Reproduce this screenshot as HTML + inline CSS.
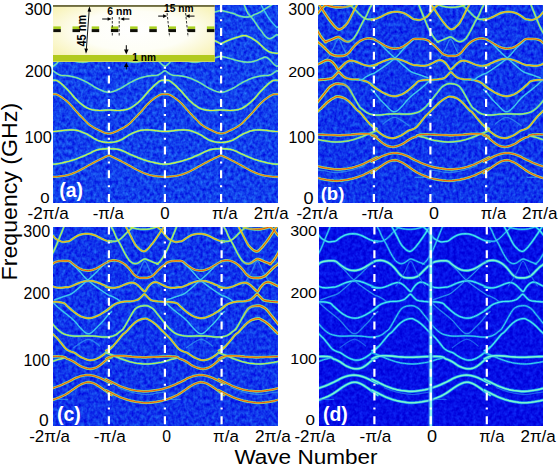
<!DOCTYPE html>
<html><head><meta charset="utf-8"><style>
html,body{margin:0;padding:0;background:#fff;}
svg{display:block;font-family:"Liberation Sans",sans-serif;}
</style></head><body>
<svg width="558" height="466" viewBox="0 0 558 466">
<defs>
<filter id="nz" x="0" y="0" width="100%" height="100%" color-interpolation-filters="sRGB"><feTurbulence type="fractalNoise" baseFrequency="0.32 0.26" numOctaves="2" seed="7"/><feColorMatrix type="matrix" values="0.2 0 0 0 -0.03  0.6 0 0 0 -0.05  0.15 0 0 0 0.85  0 0 0 0 1"/></filter>
<filter id="nzb" x="0" y="0" width="100%" height="100%" color-interpolation-filters="sRGB"><feTurbulence type="fractalNoise" baseFrequency="0.32 0.26" numOctaves="2" seed="5"/><feColorMatrix type="matrix" values="0.16 0 0 0 -0.02  0.55 0 0 0 -0.07  0.12 0 0 0 0.86  0 0 0 0 1"/></filter>
<filter id="nzd" x="0" y="0" width="100%" height="100%" color-interpolation-filters="sRGB"><feTurbulence type="fractalNoise" baseFrequency="0.3 0.25" numOctaves="2" seed="11"/><feColorMatrix type="matrix" values="0.1 0 0 0 -0.03  0.3 0 0 0 -0.09  0.2 0 0 0 0.8  0 0 0 0 1"/></filter>
<radialGradient id="ig" cx="0.5" cy="0.45" r="0.62"><stop offset="0" stop-color="#ffffff"/><stop offset="0.55" stop-color="#fefef6"/><stop offset="1" stop-color="#f8f3b8"/></radialGradient>
<path id="d0" d="M374.4,240.5 375.8,240.8 377.9,241.1 379.7,241.3 381.0,241.3 382.0,241.2 383.2,240.8 384.6,240.1 386.1,239.1 387.5,238.0 388.7,236.9 389.8,235.8 390.9,234.6 392.0,233.5 393.2,232.3 394.3,231.2 395.5,230.1 396.7,229.0 397.8,228.1 398.7,227.5 399.6,227.0 400.3,226.4 401.0,225.4 401.6,224.3 402.0,223.5"/>
<path id="d1" d="M376.4,222.0 376.5,223.1 376.8,224.7 377.2,226.4 377.9,228.0 378.9,229.6 379.7,231.2 380.3,232.7 380.9,234.1 381.4,235.4 382.0,236.6 382.5,237.7 383.2,238.9 384.0,240.2 384.8,241.7 385.7,243.2 386.6,244.8 387.4,246.6 388.3,248.3 389.2,250.1 390.0,251.8 390.9,253.5 391.8,255.0 392.6,256.5 393.5,257.8 394.3,259.0 395.0,260.2 396.0,261.2 397.3,262.2 398.8,263.1 400.3,263.6 401.6,263.7 402.8,263.4 404.0,263.0 405.0,262.4 406.0,261.7 407.0,261.0 408.2,260.2 409.4,259.4 410.6,259.0 411.7,259.1 412.8,259.5 414.0,260.0 415.4,260.6 417.0,261.3 418.6,262.0 420.5,262.7 422.6,263.5 424.0,264.0"/>
<path id="d2" d="M390.0,223.0 390.4,223.8 391.0,225.0 391.7,226.4 392.5,227.9 393.4,229.5 394.3,231.2 395.2,232.9 396.0,234.6 396.9,236.3 397.8,238.1 398.6,239.8 399.5,241.5 400.3,243.0 401.2,244.5 402.0,245.7 402.9,246.7 403.7,247.5 404.6,248.3 405.4,249.1 406.3,249.9 407.2,250.5 408.3,251.0 409.4,251.4 410.6,251.3 411.8,250.7 413.0,249.6 414.3,248.3 415.7,246.8 417.1,245.0 418.6,243.2 420.1,241.2 421.5,239.2 422.9,237.2 424.1,235.3 425.3,233.6 426.3,232.0 427.2,230.7 427.9,229.5 428.5,228.6 429.0,228.0 429.3,227.6 429.7,226.9 430.2,225.6 430.7,224.1 431.0,223.0"/>
<path id="d3" d="M420.5,223.0 421.1,223.9 421.9,225.1 422.9,226.4 424.2,227.6 425.8,229.0 427.2,230.3 428.4,231.7 429.5,233.2 430.6,234.6 431.8,236.0 432.9,237.3 434.0,238.4 434.9,239.1 435.6,239.5 436.6,240.0 437.9,240.7 439.4,241.4 440.9,241.9 442.4,241.9 443.9,241.7 445.2,241.5 446.2,241.4 447.0,241.4 448.0,241.0 449.3,240.2 450.8,239.1 452.3,238.0 453.7,237.1 455.2,236.2 456.6,235.5 458.0,234.9 459.5,234.5 460.9,234.2 462.3,233.9 463.8,233.8 465.2,233.7 466.6,233.8 468.1,233.9 469.5,234.2 470.9,234.5 472.4,235.0 473.8,235.5 475.2,236.1 476.7,236.9 478.1,237.6 479.5,238.3 480.9,239.0 482.4,239.7 484.0,240.3 485.7,240.9 487.1,241.3 488.3,241.6 489.3,241.8 490.0,241.9"/>
<path id="d4" d="M444.0,223.0 443.7,223.8 443.2,224.9 442.6,226.4 441.8,228.4 440.9,230.7 440.0,232.9 439.1,235.0 438.3,237.0 437.5,238.9 436.9,240.4 436.4,241.7 435.8,243.2 435.0,245.1 434.1,247.2 433.2,249.2 432.3,251.0 431.5,252.7 430.6,254.3 429.7,255.8 428.9,257.3 428.0,258.6 427.2,259.9 426.3,261.0 425.5,262.0 424.5,262.8 423.6,263.5 422.9,264.0"/>
<path id="d5" d="M374.4,261.5 374.8,261.3 375.4,261.0 376.3,260.8 377.6,260.6 379.1,260.4 380.6,260.3 382.0,260.5 383.5,260.8 384.9,261.2 386.4,261.8 387.8,262.5 389.2,263.3 390.4,264.1 391.5,265.0 392.6,266.0 393.7,267.1 394.8,268.3 396.0,269.7 397.4,271.4 398.8,273.3 400.3,274.9 401.7,276.0 403.2,276.9 404.6,277.5 406.1,277.8 407.6,277.9 408.9,277.9 410.1,277.9 411.1,277.9 412.0,277.9 412.8,277.8 413.4,277.8 414.3,277.5 415.6,277.1 417.1,276.5 418.6,275.7 420.0,274.4 421.5,272.9 422.9,271.4 424.4,269.9 425.8,268.5 427.2,267.2 428.4,266.2 429.6,265.4 430.6,264.6 431.5,263.8 432.2,263.0 433.2,262.4 434.5,261.9 435.9,261.5 437.5,261.2 439.1,261.0 440.9,260.8 442.6,260.8 444.4,260.8 446.1,260.8 447.8,261.2 449.4,262.1 450.8,263.4 452.3,264.6 453.7,265.7 455.2,266.7 456.6,267.6 458.0,268.4 459.3,269.1 460.9,269.7 462.8,270.2 464.8,270.5 466.9,270.6 468.9,270.4 471.0,269.9 472.9,269.3 474.7,268.5 476.5,267.6 478.1,266.7 479.6,265.8 481.0,265.0 482.4,264.1 484.0,263.1 485.7,262.2 486.8,261.5"/>
<path id="d6" d="M372.0,286.9 373.1,287.2 374.7,287.5 376.3,287.8 377.7,287.9 379.2,287.9 380.6,287.8 382.0,287.6 383.5,287.3 384.9,286.9 386.3,286.4 387.8,285.8 389.2,285.2 390.6,284.6 392.1,284.0 393.5,283.5 395.0,283.1 396.4,282.7 397.8,282.6 399.0,282.7 400.1,283.0 401.2,283.5 402.3,284.2 403.5,285.0 404.6,286.0 405.8,287.1 407.0,288.4 408.1,289.5 409.1,290.5 410.1,291.3 411.0,291.5 411.8,290.7 412.5,289.3 413.4,287.8 414.5,286.4 415.7,285.0 416.9,283.9 418.0,283.1 419.2,282.5 420.3,282.2 421.4,282.1 422.6,282.3 423.7,282.6 424.9,283.1 426.0,283.7 427.2,284.3 428.3,284.9 429.5,285.5 430.6,286.0 431.7,286.5 432.8,286.9 434.0,287.3 435.3,287.6 436.7,287.7 438.3,287.8 440.3,287.7 442.4,287.5 444.3,287.3 445.6,287.2 446.7,287.2 448.0,286.9 449.6,286.3 451.4,285.6 453.2,284.8 454.9,284.0 456.6,283.3 458.3,282.6 460.1,282.1 461.8,281.6 463.5,281.3 465.0,281.1 466.4,280.9 467.8,280.9 469.2,280.9 470.6,281.0 472.1,281.3 473.7,281.8 475.5,282.3 477.2,283.0 478.9,283.7 480.7,284.5 482.4,285.2 484.1,286.0 485.7,286.7 487.1,287.3 488.3,287.6 489.3,287.7 490.0,287.8"/>
<path id="d7" d="M448.0,262.0 450.2,263.9 453.4,266.7 456.6,269.7 459.4,272.8 462.2,276.1 465.2,279.2 468.3,281.9 471.5,284.4 475.0,287.0 479.1,289.9 483.5,292.8 486.8,295.0 488.3,295.8 488.8,295.8 489.6,296.0 491.4,296.8 493.5,297.9 495.4,298.9 496.8,299.9 497.9,300.8 499.0,301.5 500.2,301.8 501.2,301.9 502.0,302.0"/>
<path id="d8" d="M433.2,299.8 434.5,299.3 436.3,298.7 438.3,298.0 440.2,297.3 442.3,296.6 444.3,295.9 446.2,295.3 448.0,294.7 450.0,293.8 452.1,292.4 454.2,290.6 456.6,288.6 459.4,286.2 462.4,283.4 465.2,280.9 467.7,278.8 469.9,276.8 472.1,274.9 474.2,272.8 476.3,270.8 478.1,268.9 479.7,267.3 481.2,265.8 482.4,264.6 483.5,263.6 484.4,262.9 485.0,262.4"/>
<path id="d9" d="M372.0,310.9 373.1,310.0 374.7,308.7 376.3,307.4 377.7,306.3 379.2,305.3 380.6,304.4 382.0,303.7 383.5,303.2 384.9,302.7 386.4,302.3 387.8,302.0 389.2,301.7 390.5,301.5 391.7,301.5 393.0,301.4 394.4,301.4 395.9,301.4 397.5,301.2 399.5,300.9 401.6,300.4 403.5,299.8 405.0,298.9 406.2,297.8 407.3,296.8 408.4,295.7 409.3,294.7 410.3,294.2 411.3,294.7 412.2,295.7 413.3,296.8 414.4,298.0 415.6,299.2 417.1,300.2 419.1,300.8 421.5,301.1 423.9,301.4 426.3,301.6 428.7,301.8 430.9,301.9 432.6,301.9 434.1,301.8 435.8,301.9 438.1,302.2 440.5,302.6 442.6,303.2 443.9,304.0 444.8,305.0 446.0,306.3 448.0,308.0 450.2,310.0 452.3,311.7 453.9,312.9 455.2,313.9 456.6,314.8 458.0,315.6 459.3,316.3 460.9,316.9 462.8,317.5 464.9,318.0 466.9,318.2 468.7,318.1 470.4,317.8 472.1,317.3 473.8,316.7 475.5,316.0 477.2,315.2 478.9,314.3 480.7,313.2 482.4,312.2 484.1,311.2 485.7,310.1 487.1,309.2 488.3,308.3 489.3,307.5 490.0,307.0"/>
<path id="d10" d="M374.4,337.0 375.6,336.8 377.3,336.4 379.0,336.0 380.4,335.4 381.8,334.7 383.0,334.0 384.1,333.2 385.0,332.4 386.0,331.5 387.0,330.9 388.0,330.2 389.2,328.9 390.8,326.4 392.6,323.3 394.3,320.3 395.8,317.5 397.3,314.9 398.6,312.6 399.8,310.8 400.8,309.4 402.0,308.3 403.3,307.4 404.7,306.7 406.3,306.2 408.2,305.9 410.2,305.7 412.0,305.7 413.2,305.8 414.2,306.1 415.2,306.6 416.6,307.3 418.0,308.1 419.4,309.2 420.6,310.5 421.8,312.0 422.9,313.5 424.0,314.9 425.2,316.3 426.3,317.7 427.4,319.1 428.6,320.6 429.7,322.0 430.8,323.4 432.0,324.9 433.2,326.3 434.5,327.8 436.0,329.2 437.5,330.6 439.1,331.9 440.7,333.0 442.6,334.0 444.9,334.8 447.5,335.4 450.0,335.8 452.2,336.1 454.3,336.2 456.6,336.2 459.3,336.1 462.3,335.9 465.2,335.8 468.1,335.9 470.9,336.0 473.8,336.2 476.8,336.5 479.8,336.9 482.4,337.1 484.3,337.1 485.8,337.1 486.8,337.0"/>
<path id="d11" d="M372.0,350.7 373.1,350.2 374.7,349.5 376.3,348.6 377.7,347.4 379.2,345.9 380.6,344.3 382.0,342.7 383.5,340.9 384.9,339.2 386.4,337.3 387.9,335.5 389.2,334.0 390.0,333.4 390.7,333.1 391.7,332.3 393.5,330.3 395.7,327.8 397.8,325.5 399.6,323.8 401.2,322.4 402.9,321.2 404.7,320.2 406.5,319.5 408.1,319.0 409.6,318.7 410.9,318.6 412.0,318.6 412.8,318.7 413.4,319.0 414.3,319.5 415.6,320.2 417.1,321.0 418.6,322.0 420.0,323.1 421.5,324.2 422.9,325.5 424.4,326.9 425.8,328.4 427.2,329.8 428.4,331.0 429.5,332.1 430.6,333.2 431.8,334.4 433.0,335.6 434.0,336.6 434.6,337.2 435.1,337.5 435.8,338.3 437.0,339.7 438.5,341.6 440.0,343.4 441.4,345.2 442.9,347.1 444.3,348.6 445.5,349.6 446.7,350.3 448.0,351.0 449.6,351.6 451.4,352.2 453.2,352.9 454.9,354.0 456.6,355.2 458.3,356.3 460.0,357.3 461.8,358.2 463.5,358.9 465.2,359.5 466.9,360.0 468.6,360.2 470.3,360.1 472.1,359.8 473.8,359.3 475.5,358.6 477.2,357.8 478.9,356.8 480.7,355.6 482.5,354.2 484.1,352.9 485.3,351.8 486.2,350.9 487.1,349.9 488.2,348.8 489.3,347.7 490.0,346.9"/>
<path id="d12" d="M372.0,358.9 373.1,358.3 374.7,357.4 376.3,356.7 377.6,356.3 378.8,356.1 380.6,355.9 383.1,355.8 386.2,355.8 389.2,355.9 392.1,356.1 394.9,356.4 397.8,356.7 400.7,356.9 403.7,357.1 406.3,357.2 408.4,357.3 410.1,357.3 412.0,357.3 413.9,357.2 415.9,357.1 418.6,357.0 422.5,356.8 427.0,356.6 430.9,356.5 433.8,356.4 436.2,356.4 438.3,356.5 440.0,356.6 441.3,356.7 442.6,357.0 443.9,357.6 445.0,358.4 446.0,359.0 446.7,359.2 447.1,359.3 448.0,359.6 449.5,360.3 451.4,361.3 453.2,362.3 454.9,363.5 456.6,364.7 458.3,365.8 460.0,366.6 461.8,367.3 463.5,367.9 465.2,368.4 466.9,368.7 468.6,368.8 470.3,368.7 472.1,368.4 473.8,367.9 475.5,367.1 477.2,366.1 478.9,364.9 480.7,363.5 482.5,361.9 484.1,360.6 485.3,359.7 486.2,359.1 487.1,358.5 488.2,358.0 489.3,357.5 490.0,357.2"/>
<path id="d13" d="M372.0,352.9 373.4,353.3 375.3,353.9 377.2,354.6 378.9,355.3 380.6,356.0 382.3,356.7 384.0,357.4 385.7,358.2 387.5,358.9 389.4,359.6 391.4,360.3 393.5,361.0 395.7,361.7 398.1,362.3 400.3,362.8 402.4,363.2 404.4,363.4 406.3,363.6 408.2,363.8 410.0,363.9 412.0,364.0 414.1,364.0 416.2,363.8 418.6,363.6 421.5,363.2 424.6,362.7 427.2,362.3 428.8,362.0 429.8,361.8 430.9,361.5 432.4,361.0 434.1,360.4 435.8,359.8 437.5,359.3 439.3,358.9 440.9,358.5 442.3,358.0 443.5,357.6 444.3,357.3"/>
<path id="d14" d="M452.3,347.7 453.8,346.6 456.0,345.0 458.3,343.4 460.6,341.9 463.1,340.5 465.2,339.6 466.8,339.3 468.2,339.5 469.5,340.0 470.9,340.7 472.4,341.6 473.8,342.6 475.4,343.8 477.0,345.1 478.1,346.0"/>
<path id="d15" d="M430.9,302.0 432.2,303.2 434.0,304.9 435.8,306.6 437.4,308.0 439.1,309.5 441.0,311.0 443.3,312.8 445.7,314.7 448.0,316.5 449.9,318.1 451.5,319.6 453.2,321.2 454.9,323.1 456.6,325.2 458.3,327.2 460.1,329.1 461.9,331.0 463.5,332.4 464.8,333.2 465.8,333.6 466.9,333.7 468.0,333.6 469.0,333.2 470.3,332.4 471.9,331.0 473.7,329.1 475.5,327.2 477.2,325.5 479.0,323.8 480.6,322.1 482.2,320.3 483.7,318.4 484.9,316.9 485.8,315.8 486.4,315.1 487.1,314.3 488.1,313.3 489.2,312.4 490.0,311.7"/>
<path id="d16" d="M372.0,379.2 373.6,380.0 375.8,381.1 378.1,382.2 380.1,383.3 382.2,384.3 384.2,385.3 386.2,386.2 388.3,387.0 390.3,387.7 392.3,388.4 394.3,389.0 396.5,389.6 398.8,390.1 401.3,390.5 403.8,390.8 406.4,391.1 409.1,391.4 412.0,391.4 415.3,391.2 418.8,390.7 422.2,390.2 425.1,389.7 427.9,389.1 430.8,388.3 434.0,387.2 437.4,386.0 440.6,384.7 443.6,383.3 446.5,382.0 449.0,380.7 450.9,379.7 452.4,378.8 454.1,378.0 456.1,377.2 458.1,376.5 460.2,375.9 462.3,375.5 464.3,375.2 466.4,375.1 468.4,375.2 470.5,375.5 472.5,375.9 474.5,376.5 476.6,377.2 478.6,378.0 480.7,379.0 482.7,380.0 484.7,381.0 486.7,382.0 488.7,382.9 490.0,383.5"/>
<path id="d17" d="M384.2,387.7 387.3,388.9 391.7,390.5 396.5,392.0 401.6,393.1 407.1,394.0 412.0,394.5 415.9,394.3 419.1,393.8 422.2,393.2 425.5,392.7 428.6,392.3 430.8,392.0"/>
<path id="d18" d="M372.0,390.2 373.6,391.0 375.8,392.1 378.1,393.2 380.1,394.3 382.2,395.3 384.2,396.3 386.2,397.2 388.3,398.0 390.3,398.7 392.3,399.4 394.3,400.0 396.5,400.6 398.8,401.1 401.3,401.6 403.8,402.0 406.4,402.4 409.1,402.7 412.0,402.8 415.3,402.6 418.8,402.3 422.2,401.8 425.1,401.3 427.9,400.8 430.8,400.0 434.1,398.9 437.5,397.6 440.6,396.3 443.3,394.9 445.7,393.5 448.0,392.0 450.1,390.5 452.1,389.1 454.1,387.7 456.1,386.4 458.2,385.1 460.2,384.1 462.3,383.2 464.3,382.5 466.4,382.2 468.4,382.3 470.5,382.8 472.5,383.5 474.5,384.5 476.6,385.8 478.6,387.1 480.7,388.5 482.7,390.0 484.7,391.4 486.7,392.8 488.7,394.2 490.0,395.1"/>
<path id="d19" d="M430.8,399.4 435.3,399.4 441.5,399.4 446.0,399.4"/>
<path id="d20" d="M394.0,226.0 395.5,226.6 397.6,227.5 400.0,228.2 402.5,228.7 405.3,229.1 408.0,229.3 410.7,229.3 413.3,229.2 416.0,228.8 419.0,228.1 421.9,227.2 424.0,226.5"/>
<path id="d21" d="M396.0,286.0 397.3,284.1 399.2,281.3 401.0,278.5 402.5,275.9 404.0,273.3 405.5,270.5 407.2,266.7 408.9,262.8 410.6,261.0 412.3,262.8 414.0,266.7 415.7,270.5 417.2,273.3 418.7,275.9 420.2,278.5 422.0,281.3 423.7,284.1 425.0,286.0"/>
<g id="gD" fill="none" stroke-linejoin="round" stroke-linecap="round"><use href="#d0" stroke="#1a80f0" stroke-width="2.2" stroke-opacity="0.8"/><use href="#d1" stroke="#1a80f0" stroke-width="2.2" stroke-opacity="0.8"/><use href="#d2" stroke="#1a90f0" stroke-width="2.5" stroke-opacity="0.8"/><use href="#d3" stroke="#1a90f0" stroke-width="2.5" stroke-opacity="0.8"/><use href="#d4" stroke="#1a80f0" stroke-width="2.2" stroke-opacity="0.8"/><use href="#d5" stroke="#1aa0f0" stroke-width="3.0" stroke-opacity="0.85"/><use href="#d6" stroke="#1a90f0" stroke-width="2.5" stroke-opacity="0.8"/><use href="#d7" stroke="#1a60f0" stroke-width="1.8" stroke-opacity="0.7"/><use href="#d8" stroke="#1a60f0" stroke-width="1.8" stroke-opacity="0.7"/><use href="#d9" stroke="#1a90f0" stroke-width="2.5" stroke-opacity="0.8"/><use href="#d10" stroke="#1a80f0" stroke-width="2.2" stroke-opacity="0.8"/><use href="#d11" stroke="#1a90f0" stroke-width="2.5" stroke-opacity="0.8"/><use href="#d12" stroke="#1aa0f0" stroke-width="3.0" stroke-opacity="0.85"/><use href="#d13" stroke="#1a80f0" stroke-width="2.2" stroke-opacity="0.8"/><use href="#d14" stroke="#1a40f0" stroke-width="1.4" stroke-opacity="0.7"/><use href="#d15" stroke="#1a60f0" stroke-width="1.8" stroke-opacity="0.7"/><use href="#d16" stroke="#1aa0f0" stroke-width="3.0" stroke-opacity="0.85"/><use href="#d17" stroke="#1a40f0" stroke-width="1.4" stroke-opacity="0.7"/><use href="#d18" stroke="#1aa0f0" stroke-width="3.0" stroke-opacity="0.85"/><use href="#d19" stroke="#1a40f0" stroke-width="1.4" stroke-opacity="0.7"/><use href="#d20" stroke="#1a80f0" stroke-width="2.2" stroke-opacity="0.8"/><use href="#d21" stroke="#1a40f0" stroke-width="1.4" stroke-opacity="0.7"/><use href="#d0" stroke="#38d8f0" stroke-width="1.0"/><use href="#d1" stroke="#38d8f0" stroke-width="1.0"/><use href="#d2" stroke="#48ecec" stroke-width="1.2"/><use href="#d3" stroke="#48ecec" stroke-width="1.2"/><use href="#d4" stroke="#38d8f0" stroke-width="1.0"/><use href="#d5" stroke="#58f0e0" stroke-width="1.6"/><use href="#d6" stroke="#48ecec" stroke-width="1.2"/><use href="#d7" stroke="#30a8f0" stroke-width="0.8"/><use href="#d8" stroke="#30a8f0" stroke-width="0.8"/><use href="#d9" stroke="#48ecec" stroke-width="1.2"/><use href="#d10" stroke="#38d8f0" stroke-width="1.0"/><use href="#d11" stroke="#48ecec" stroke-width="1.2"/><use href="#d12" stroke="#58f0e0" stroke-width="1.6"/><use href="#d13" stroke="#38d8f0" stroke-width="1.0"/><use href="#d14" stroke="#2080f0" stroke-width="0.7"/><use href="#d15" stroke="#30a8f0" stroke-width="0.8"/><use href="#d16" stroke="#58f0e0" stroke-width="1.6"/><use href="#d17" stroke="#2080f0" stroke-width="0.7"/><use href="#d18" stroke="#58f0e0" stroke-width="1.6"/><use href="#d19" stroke="#2080f0" stroke-width="0.7"/><use href="#d20" stroke="#38d8f0" stroke-width="1.0"/><use href="#d21" stroke="#2080f0" stroke-width="0.7"/><use href="#d5" stroke="#a8f8b8" stroke-width="0.6"/><use href="#d12" stroke="#a8f8b8" stroke-width="0.6"/><use href="#d16" stroke="#a8f8b8" stroke-width="0.6"/><use href="#d18" stroke="#a8f8b8" stroke-width="0.6"/></g>
<g id="gB" fill="none" stroke-linejoin="round" stroke-linecap="round"><use href="#d0" stroke="#40d0d8" stroke-width="2.2" stroke-opacity="0.9"/><use href="#d1" stroke="#40d0d8" stroke-width="2.2" stroke-opacity="0.9"/><use href="#d2" stroke="#48d8c0" stroke-width="2.5" stroke-opacity="0.9"/><use href="#d3" stroke="#48d8c0" stroke-width="2.5" stroke-opacity="0.9"/><use href="#d4" stroke="#40d0d8" stroke-width="2.2" stroke-opacity="0.9"/><use href="#d5" stroke="#50d8b0" stroke-width="2.7" stroke-opacity="0.9"/><use href="#d6" stroke="#48d8c0" stroke-width="2.5" stroke-opacity="0.9"/><use href="#d7" stroke="#30b0f0" stroke-width="1.6" stroke-opacity="0.9"/><use href="#d8" stroke="#30b0f0" stroke-width="1.6" stroke-opacity="0.9"/><use href="#d9" stroke="#48d8c0" stroke-width="2.5" stroke-opacity="0.9"/><use href="#d10" stroke="#40d0d8" stroke-width="2.2" stroke-opacity="0.9"/><use href="#d11" stroke="#48d8c0" stroke-width="2.5" stroke-opacity="0.9"/><use href="#d12" stroke="#50d8b0" stroke-width="2.7" stroke-opacity="0.9"/><use href="#d13" stroke="#40d0d8" stroke-width="2.2" stroke-opacity="0.9"/><use href="#d14" stroke="#3090f0" stroke-width="1.3" stroke-opacity="0.8"/><use href="#d15" stroke="#30b0f0" stroke-width="1.6" stroke-opacity="0.9"/><use href="#d16" stroke="#50d8b0" stroke-width="2.7" stroke-opacity="0.9"/><use href="#d17" stroke="#3090f0" stroke-width="1.3" stroke-opacity="0.8"/><use href="#d18" stroke="#50d8b0" stroke-width="2.7" stroke-opacity="0.9"/><use href="#d19" stroke="#3090f0" stroke-width="1.3" stroke-opacity="0.8"/><use href="#d20" stroke="#40d0d8" stroke-width="2.2" stroke-opacity="0.9"/><use href="#d21" stroke="#3090f0" stroke-width="1.3" stroke-opacity="0.8"/><use href="#d0" stroke="#c8ec48" stroke-width="1.0"/><use href="#d1" stroke="#c8ec48" stroke-width="1.0"/><use href="#d2" stroke="#f0dc20" stroke-width="1.4"/><use href="#d3" stroke="#f0dc20" stroke-width="1.4"/><use href="#d4" stroke="#c8ec48" stroke-width="1.0"/><use href="#d5" stroke="#f0d020" stroke-width="1.7"/><use href="#d6" stroke="#f0dc20" stroke-width="1.4"/><use href="#d7" stroke="#50e0e8" stroke-width="0.7"/><use href="#d8" stroke="#50e0e8" stroke-width="0.7"/><use href="#d9" stroke="#f0dc20" stroke-width="1.4"/><use href="#d10" stroke="#c8ec48" stroke-width="1.0"/><use href="#d11" stroke="#f0dc20" stroke-width="1.4"/><use href="#d12" stroke="#f0d020" stroke-width="1.7"/><use href="#d13" stroke="#c8ec48" stroke-width="1.0"/><use href="#d15" stroke="#50e0e8" stroke-width="0.7"/><use href="#d16" stroke="#f0d020" stroke-width="1.7"/><use href="#d18" stroke="#f0d020" stroke-width="1.7"/><use href="#d20" stroke="#c8ec48" stroke-width="1.0"/><use href="#d2" stroke="#e87018" stroke-width="0.5"/><use href="#d3" stroke="#e87018" stroke-width="0.5"/><use href="#d5" stroke="#e03810" stroke-width="0.8"/><use href="#d6" stroke="#e87018" stroke-width="0.5"/><use href="#d9" stroke="#e87018" stroke-width="0.5"/><use href="#d11" stroke="#e87018" stroke-width="0.5"/><use href="#d12" stroke="#e03810" stroke-width="0.8"/><use href="#d16" stroke="#e03810" stroke-width="0.8"/><use href="#d18" stroke="#e03810" stroke-width="0.8"/></g>
<g id="gX" fill="none" stroke-linejoin="round" stroke-linecap="round"><use href="#d0" stroke="#50d8b0" stroke-width="3.0" stroke-opacity="0.9"/><use href="#d1" stroke="#50d8b0" stroke-width="3.0" stroke-opacity="0.9"/><use href="#d2" stroke="#50d8b0" stroke-width="3.0" stroke-opacity="0.9"/><use href="#d3" stroke="#50d8b0" stroke-width="3.0" stroke-opacity="0.9"/><use href="#d4" stroke="#50d8b0" stroke-width="3.0" stroke-opacity="0.9"/><use href="#d5" stroke="#50d8b0" stroke-width="3.0" stroke-opacity="0.9"/><use href="#d6" stroke="#50d8b0" stroke-width="3.0" stroke-opacity="0.9"/><use href="#d7" stroke="#40d8d8" stroke-width="2.2" stroke-opacity="0.9"/><use href="#d8" stroke="#40d8d8" stroke-width="2.2" stroke-opacity="0.9"/><use href="#d9" stroke="#50d8b0" stroke-width="3.0" stroke-opacity="0.9"/><use href="#d10" stroke="#50d8b0" stroke-width="3.0" stroke-opacity="0.9"/><use href="#d11" stroke="#50d8b0" stroke-width="3.0" stroke-opacity="0.9"/><use href="#d12" stroke="#50d8b0" stroke-width="3.0" stroke-opacity="0.9"/><use href="#d13" stroke="#50d8b0" stroke-width="3.0" stroke-opacity="0.9"/><use href="#d15" stroke="#40d8d8" stroke-width="2.2" stroke-opacity="0.9"/><use href="#d16" stroke="#50d8b0" stroke-width="3.0" stroke-opacity="0.9"/><use href="#d18" stroke="#50d8b0" stroke-width="3.0" stroke-opacity="0.9"/><use href="#d20" stroke="#50d8b0" stroke-width="3.0" stroke-opacity="0.9"/><use href="#d0" stroke="#f0d020" stroke-width="1.9"/><use href="#d1" stroke="#f0d020" stroke-width="1.9"/><use href="#d2" stroke="#f0d020" stroke-width="1.9"/><use href="#d3" stroke="#f0d020" stroke-width="1.9"/><use href="#d4" stroke="#f0d020" stroke-width="1.9"/><use href="#d5" stroke="#f0d020" stroke-width="1.9"/><use href="#d6" stroke="#f0d020" stroke-width="1.9"/><use href="#d7" stroke="#d8ec40" stroke-width="1.1"/><use href="#d8" stroke="#d8ec40" stroke-width="1.1"/><use href="#d9" stroke="#f0d020" stroke-width="1.9"/><use href="#d10" stroke="#f0d020" stroke-width="1.9"/><use href="#d11" stroke="#f0d020" stroke-width="1.9"/><use href="#d12" stroke="#f0d020" stroke-width="1.9"/><use href="#d13" stroke="#f0d020" stroke-width="1.9"/><use href="#d15" stroke="#d8ec40" stroke-width="1.1"/><use href="#d16" stroke="#f0d020" stroke-width="1.9"/><use href="#d18" stroke="#f0d020" stroke-width="1.9"/><use href="#d20" stroke="#f0d020" stroke-width="1.9"/><use href="#d0" stroke="#e03810" stroke-width="0.9"/><use href="#d1" stroke="#e03810" stroke-width="0.9"/><use href="#d2" stroke="#e03810" stroke-width="0.9"/><use href="#d3" stroke="#e03810" stroke-width="0.9"/><use href="#d4" stroke="#e03810" stroke-width="0.9"/><use href="#d5" stroke="#e03810" stroke-width="0.9"/><use href="#d6" stroke="#e03810" stroke-width="0.9"/><use href="#d9" stroke="#e03810" stroke-width="0.9"/><use href="#d10" stroke="#e03810" stroke-width="0.9"/><use href="#d11" stroke="#e03810" stroke-width="0.9"/><use href="#d12" stroke="#e03810" stroke-width="0.9"/><use href="#d13" stroke="#e03810" stroke-width="0.9"/><use href="#d16" stroke="#e03810" stroke-width="0.9"/><use href="#d18" stroke="#e03810" stroke-width="0.9"/><use href="#d20" stroke="#e03810" stroke-width="0.9"/></g>
</defs>
<clipPath id="cpa"><rect x="53" y="5" width="225" height="198"/></clipPath>
<rect x="53" y="5" width="225" height="198" fill="#1450ee"/>
<g clip-path="url(#cpa)">
<rect x="53" y="5" width="225" height="198" filter="url(#nz)"/>
<defs><path id="a0" d="M53.0,70.7 54.2,71.6 55.5,72.5 56.8,73.4 58.0,74.2 59.2,74.8 60.5,75.2 61.8,75.5 63.0,75.6 64.2,75.6 65.5,75.6 66.8,75.7 68.0,75.8 69.2,76.0 70.5,76.3 71.8,76.5 73.0,76.8 74.2,77.1 75.5,77.4 76.8,77.8 78.0,78.2 79.2,78.7 80.5,79.2 81.8,79.8 83.0,80.3 84.2,80.9 85.5,81.6 86.8,82.2 88.0,82.9 89.2,83.6 90.5,84.4 91.8,85.2 93.0,86.0 94.2,86.8 95.5,87.5 96.8,88.2 98.0,88.8 99.2,89.4 100.5,89.9 101.8,90.5 103.0,91.0 104.2,91.5 105.5,91.8 106.8,92.1 108.0,92.3 109.2,92.3 110.5,92.2 111.8,91.9 113.0,91.6 114.2,91.1 115.5,90.7 116.8,90.1 118.0,89.5 119.2,89.0 120.5,88.4 121.8,87.7 123.0,87.0 124.2,86.2 125.5,85.4 126.8,84.6 128.0,83.8 129.2,83.1 130.5,82.4 131.8,81.8 133.0,81.1 134.2,80.5 135.5,79.9 136.8,79.4 138.0,78.8 139.2,78.3 140.5,77.9 141.8,77.5 143.0,77.2 144.2,76.9 145.5,76.6 146.8,76.3 148.0,76.1 149.2,75.9 150.5,75.7 151.8,75.6 153.0,75.6 154.2,75.6 155.5,75.5 156.8,75.3 158.0,75.0 159.2,74.4 160.5,73.6 161.8,72.7 163.0,71.8 164.2,70.9 165.5,70.9 166.8,71.8 168.0,72.7 169.2,73.6 170.5,74.4 171.8,74.9 173.0,75.3 174.2,75.5 175.5,75.6 176.8,75.6 178.0,75.6 179.2,75.7 180.5,75.9 181.8,76.1 183.0,76.3 184.2,76.6 185.5,76.8 186.8,77.1 188.0,77.5 189.2,77.9 190.5,78.3 191.8,78.8 193.0,79.3 194.2,79.9 195.5,80.5 196.8,81.1 198.0,81.7 199.2,82.4 200.5,83.0 201.8,83.8 203.0,84.6 204.2,85.4 205.5,86.2 206.8,87.0 208.0,87.7 209.2,88.3 210.5,88.9 211.8,89.5 213.0,90.1 214.2,90.6 215.5,91.1 216.8,91.6 218.0,91.9 219.2,92.2 220.5,92.3 221.8,92.3 223.0,92.1 224.2,91.9 225.5,91.5 226.8,91.0 228.0,90.5 229.2,90.0 230.5,89.4 231.8,88.8 233.0,88.2 234.2,87.6 235.5,86.8 236.8,86.0 238.0,85.2 239.2,84.4 240.5,83.6 241.8,82.9 243.0,82.2 244.2,81.6 245.5,81.0 246.8,80.4 248.0,79.8 249.2,79.2 250.5,78.7 251.8,78.2 253.0,77.8 254.2,77.4 255.5,77.1 256.8,76.8 258.0,76.5 259.2,76.3 260.5,76.0 261.8,75.8 263.0,75.7 264.2,75.6 265.5,75.6 266.8,75.6 268.0,75.5 269.2,75.2 270.5,74.8 271.8,74.2 273.0,73.4 274.2,72.5 275.5,71.6 276.8,70.7 278.0,71.1"/><path id="a1" d="M53.0,80.3 54.2,80.2 55.5,80.3 56.8,80.5 58.0,81.2 59.2,82.0 60.5,83.0 61.8,84.1 63.0,85.2 64.2,86.4 65.5,87.7 66.8,88.9 68.0,90.2 69.2,91.5 70.5,92.9 71.8,94.4 73.0,95.8 74.2,97.3 75.5,98.7 76.8,100.0 78.0,101.2 79.2,102.3 80.5,103.4 81.8,104.4 83.0,105.3 84.2,106.2 85.5,107.0 86.8,107.7 88.0,108.3 89.2,108.8 90.5,109.3 91.8,109.6 93.0,109.8 94.2,110.0 95.5,110.2 96.8,110.3 98.0,110.4 99.2,110.5 100.5,110.5 101.8,110.4 103.0,110.3 104.2,110.2 105.5,110.1 106.8,110.1 108.0,110.0 109.2,110.0 110.5,110.0 111.8,110.1 113.0,110.2 114.2,110.3 115.5,110.4 116.8,110.5 118.0,110.5 119.2,110.5 120.5,110.4 121.8,110.2 123.0,110.1 124.2,109.9 125.5,109.7 126.8,109.4 128.0,109.0 129.2,108.5 130.5,107.9 131.8,107.2 133.0,106.4 134.2,105.6 135.5,104.6 136.8,103.6 138.0,102.6 139.2,101.5 140.5,100.3 141.8,99.1 143.0,97.7 144.2,96.3 145.5,94.8 146.8,93.3 148.0,91.9 149.2,90.5 150.5,89.3 151.8,88.0 153.0,86.8 154.2,85.6 155.5,84.4 156.8,83.3 158.0,82.3 159.2,81.4 160.5,80.7 161.8,80.3 163.0,80.2 164.2,80.3 165.5,80.3 166.8,80.2 168.0,80.3 169.2,80.6 170.5,81.4 171.8,82.3 173.0,83.3 174.2,84.4 175.5,85.5 176.8,86.7 178.0,88.0 179.2,89.2 180.5,90.5 181.8,91.8 183.0,93.2 184.2,94.7 185.5,96.2 186.8,97.6 188.0,99.0 189.2,100.3 190.5,101.4 191.8,102.5 193.0,103.6 194.2,104.6 195.5,105.5 196.8,106.4 198.0,107.2 199.2,107.9 200.5,108.5 201.8,109.0 203.0,109.3 204.2,109.7 205.5,109.9 206.8,110.1 208.0,110.2 209.2,110.4 210.5,110.5 211.8,110.5 213.0,110.5 214.2,110.4 215.5,110.3 216.8,110.2 218.0,110.1 219.2,110.0 220.5,110.0 221.8,110.0 223.0,110.1 224.2,110.1 225.5,110.2 226.8,110.3 228.0,110.4 229.2,110.5 230.5,110.5 231.8,110.4 233.0,110.3 234.2,110.2 235.5,110.0 236.8,109.8 238.0,109.6 239.2,109.3 240.5,108.9 241.8,108.4 243.0,107.8 244.2,107.0 245.5,106.2 246.8,105.4 248.0,104.4 249.2,103.4 250.5,102.3 251.8,101.2 253.0,100.0 254.2,98.8 255.5,97.4 256.8,95.9 258.0,94.4 259.2,93.0 260.5,91.5 261.8,90.2 263.0,89.0 264.2,87.7 265.5,86.5 266.8,85.3 268.0,84.1 269.2,83.1 270.5,82.1 271.8,81.2 273.0,80.5 274.2,80.3 275.5,80.2 276.8,80.3 278.0,80.3"/><path id="a2" d="M53.0,94.3 54.2,94.3 55.5,94.3 56.8,94.5 58.0,95.0 59.2,95.7 60.5,96.5 61.8,97.3 63.0,98.2 64.2,99.1 65.5,100.1 66.8,101.1 68.0,102.2 69.2,103.4 70.5,104.8 71.8,106.1 73.0,107.6 74.2,109.0 75.5,110.5 76.8,111.9 78.0,113.3 79.2,114.6 80.5,115.9 81.8,117.2 83.0,118.4 84.2,119.7 85.5,121.0 86.8,122.3 88.0,123.5 89.2,124.6 90.5,125.5 91.8,126.3 93.0,127.1 94.2,127.8 95.5,128.5 96.8,129.1 98.0,129.7 99.2,130.3 100.5,130.9 101.8,131.5 103.0,132.1 104.2,132.6 105.5,133.0 106.8,133.3 108.0,133.5 109.2,133.5 110.5,133.4 111.8,133.1 113.0,132.7 114.2,132.2 115.5,131.7 116.8,131.1 118.0,130.5 119.2,129.9 120.5,129.3 121.8,128.7 123.0,128.0 124.2,127.3 125.5,126.5 126.8,125.7 128.0,124.8 129.2,123.8 130.5,122.7 131.8,121.4 133.0,120.1 134.2,118.8 135.5,117.5 136.8,116.2 138.0,114.9 139.2,113.6 140.5,112.3 141.8,110.9 143.0,109.5 144.2,108.0 145.5,106.5 146.8,105.1 148.0,103.8 149.2,102.6 150.5,101.4 151.8,100.4 153.0,99.4 154.2,98.4 155.5,97.5 156.8,96.7 158.0,95.9 159.2,95.2 160.5,94.6 161.8,94.3 163.0,94.3 164.2,94.3 165.5,94.3 166.8,94.3 168.0,94.3 169.2,94.6 170.5,95.2 171.8,95.9 173.0,96.7 174.2,97.5 175.5,98.4 176.8,99.3 178.0,100.3 179.2,101.4 180.5,102.5 181.8,103.8 183.0,105.1 184.2,106.5 185.5,107.9 186.8,109.4 188.0,110.8 189.2,112.2 190.5,113.6 191.8,114.9 193.0,116.2 194.2,117.5 195.5,118.7 196.8,120.0 198.0,121.3 199.2,122.6 200.5,123.8 201.8,124.8 203.0,125.7 204.2,126.5 205.5,127.3 206.8,128.0 208.0,128.6 209.2,129.3 210.5,129.8 211.8,130.4 213.0,131.0 214.2,131.6 215.5,132.2 216.8,132.7 218.0,133.1 219.2,133.3 220.5,133.5 221.8,133.5 223.0,133.3 224.2,133.0 225.5,132.6 226.8,132.1 228.0,131.5 229.2,130.9 230.5,130.3 231.8,129.7 233.0,129.1 234.2,128.5 235.5,127.8 236.8,127.1 238.0,126.3 239.2,125.5 240.5,124.6 241.8,123.6 243.0,122.4 244.2,121.1 245.5,119.8 246.8,118.5 248.0,117.2 249.2,115.9 250.5,114.6 251.8,113.3 253.0,112.0 254.2,110.6 255.5,109.1 256.8,107.6 258.0,106.2 259.2,104.8 260.5,103.5 261.8,102.3 263.0,101.2 264.2,100.1 265.5,99.1 266.8,98.2 268.0,97.3 269.2,96.5 270.5,95.7 271.8,95.1 273.0,94.5 274.2,94.3 275.5,94.3 276.8,94.3 278.0,94.3"/><path id="a3" d="M53.0,131.5 54.2,131.5 55.5,131.4 56.8,131.3 58.0,131.1 59.2,131.0 60.5,130.8 61.8,130.6 63.0,130.5 64.2,130.3 65.5,130.2 66.8,130.1 68.0,130.0 69.2,129.9 70.5,129.9 71.8,129.9 73.0,129.9 74.2,130.0 75.5,130.2 76.8,130.4 78.0,130.6 79.2,131.0 80.5,131.4 81.8,131.9 83.0,132.4 84.2,132.9 85.5,133.5 86.8,134.0 88.0,134.7 89.2,135.4 90.5,136.1 91.8,137.0 93.0,137.8 94.2,138.6 95.5,139.3 96.8,140.0 98.0,140.5 99.2,140.9 100.5,141.3 101.8,141.6 103.0,141.9 104.2,142.1 105.5,142.3 106.8,142.4 108.0,142.5 109.2,142.5 110.5,142.4 111.8,142.3 113.0,142.2 114.2,142.0 115.5,141.7 116.8,141.4 118.0,141.0 119.2,140.6 120.5,140.1 121.8,139.5 123.0,138.8 124.2,138.0 125.5,137.2 126.8,136.4 128.0,135.6 129.2,134.8 130.5,134.2 131.8,133.6 133.0,133.0 134.2,132.5 135.5,132.0 136.8,131.5 138.0,131.1 139.2,130.7 140.5,130.4 141.8,130.2 143.0,130.1 144.2,130.0 145.5,129.9 146.8,129.9 148.0,129.9 149.2,130.0 150.5,130.0 151.8,130.1 153.0,130.3 154.2,130.4 155.5,130.6 156.8,130.7 158.0,130.9 159.2,131.1 160.5,131.2 161.8,131.4 163.0,131.4 164.2,131.5 165.5,131.5 166.8,131.4 168.0,131.4 169.2,131.2 170.5,131.1 171.8,130.9 173.0,130.8 174.2,130.6 175.5,130.4 176.8,130.3 178.0,130.1 179.2,130.0 180.5,130.0 181.8,129.9 183.0,129.9 184.2,129.9 185.5,130.0 186.8,130.1 188.0,130.2 189.2,130.4 190.5,130.7 191.8,131.1 193.0,131.5 194.2,132.0 195.5,132.5 196.8,133.0 198.0,133.6 199.2,134.2 200.5,134.8 201.8,135.5 203.0,136.3 204.2,137.2 205.5,138.0 206.8,138.8 208.0,139.5 209.2,140.1 210.5,140.6 211.8,141.0 213.0,141.4 214.2,141.7 215.5,142.0 216.8,142.2 218.0,142.3 219.2,142.4 220.5,142.5 221.8,142.5 223.0,142.4 224.2,142.3 225.5,142.1 226.8,141.9 228.0,141.6 229.2,141.3 230.5,140.9 231.8,140.5 233.0,140.0 234.2,139.3 235.5,138.6 236.8,137.8 238.0,137.0 239.2,136.2 240.5,135.4 241.8,134.7 243.0,134.1 244.2,133.5 245.5,132.9 246.8,132.4 248.0,131.9 249.2,131.4 250.5,131.0 251.8,130.7 253.0,130.4 254.2,130.2 255.5,130.0 256.8,130.0 258.0,129.9 259.2,129.9 260.5,129.9 261.8,130.0 263.0,130.1 264.2,130.2 265.5,130.3 266.8,130.4 268.0,130.6 269.2,130.8 270.5,131.0 271.8,131.1 273.0,131.3 274.2,131.4 275.5,131.5 276.8,131.5 278.0,131.5"/><path id="a4" d="M53.0,164.2 54.2,164.2 55.5,164.1 56.8,163.9 58.0,163.7 59.2,163.5 60.5,163.2 61.8,163.0 63.0,162.7 64.2,162.4 65.5,162.1 66.8,161.8 68.0,161.5 69.2,161.2 70.5,160.8 71.8,160.4 73.0,160.0 74.2,159.6 75.5,159.2 76.8,158.7 78.0,158.3 79.2,157.8 80.5,157.3 81.8,156.8 83.0,156.2 84.2,155.7 85.5,155.2 86.8,154.6 88.0,154.1 89.2,153.5 90.5,152.9 91.8,152.2 93.0,151.6 94.2,151.0 95.5,150.5 96.8,150.0 98.0,149.7 99.2,149.4 100.5,149.2 101.8,149.1 103.0,148.9 104.2,148.9 105.5,148.8 106.8,148.7 108.0,148.6 109.2,148.5 110.5,148.7 111.8,148.8 113.0,148.8 114.2,148.9 115.5,149.0 116.8,149.2 118.0,149.4 119.2,149.6 120.5,149.9 121.8,150.4 123.0,150.9 124.2,151.5 125.5,152.1 126.8,152.7 128.0,153.3 129.2,153.9 130.5,154.5 131.8,155.0 133.0,155.5 134.2,156.1 135.5,156.6 136.8,157.1 138.0,157.7 139.2,158.1 140.5,158.6 141.8,159.1 143.0,159.5 144.2,159.9 145.5,160.3 146.8,160.7 148.0,161.1 149.2,161.4 150.5,161.7 151.8,162.0 153.0,162.3 154.2,162.6 155.5,162.9 156.8,163.2 158.0,163.4 159.2,163.7 160.5,163.9 161.8,164.0 163.0,164.1 164.2,164.2 165.5,164.2 166.8,164.1 168.0,164.0 169.2,163.9 170.5,163.7 171.8,163.4 173.0,163.2 174.2,162.9 175.5,162.6 176.8,162.3 178.0,162.0 179.2,161.7 180.5,161.4 181.8,161.1 183.0,160.7 184.2,160.3 185.5,159.9 186.8,159.5 188.0,159.1 189.2,158.6 190.5,158.2 191.8,157.7 193.0,157.2 194.2,156.6 195.5,156.1 196.8,155.6 198.0,155.0 199.2,154.5 200.5,153.9 201.8,153.3 203.0,152.7 204.2,152.1 205.5,151.5 206.8,150.9 208.0,150.4 209.2,150.0 210.5,149.6 211.8,149.4 213.0,149.2 214.2,149.0 215.5,148.9 216.8,148.8 218.0,148.8 219.2,148.7 220.5,148.6 221.8,148.6 223.0,148.7 224.2,148.8 225.5,148.9 226.8,148.9 228.0,149.1 229.2,149.2 230.5,149.4 231.8,149.7 233.0,150.0 234.2,150.5 235.5,151.0 236.8,151.6 238.0,152.2 239.2,152.8 240.5,153.5 241.8,154.0 243.0,154.6 244.2,155.1 245.5,155.7 246.8,156.2 248.0,156.7 249.2,157.3 250.5,157.8 251.8,158.3 253.0,158.7 254.2,159.2 255.5,159.6 256.8,160.0 258.0,160.4 259.2,160.8 260.5,161.1 261.8,161.5 263.0,161.7 264.2,162.0 265.5,162.4 266.8,162.7 268.0,163.0 269.2,163.2 270.5,163.5 271.8,163.7 273.0,163.9 274.2,164.0 275.5,164.2 276.8,164.2 278.0,164.2"/><path id="a5" d="M53.0,176.8 54.2,176.8 55.5,176.7 56.8,176.7 58.0,176.6 59.2,176.4 60.5,176.3 61.8,176.1 63.0,175.9 64.2,175.7 65.5,175.5 66.8,175.2 68.0,175.0 69.2,174.6 70.5,174.3 71.8,173.8 73.0,173.3 74.2,172.8 75.5,172.3 76.8,171.7 78.0,171.1 79.2,170.5 80.5,169.8 81.8,169.2 83.0,168.5 84.2,167.8 85.5,167.1 86.8,166.4 88.0,165.7 89.2,165.0 90.5,164.4 91.8,163.7 93.0,163.0 94.2,162.3 95.5,161.7 96.8,161.0 98.0,160.4 99.2,159.8 100.5,159.2 101.8,158.6 103.0,158.0 104.2,157.4 105.5,156.8 106.8,156.2 108.0,155.6 109.2,155.4 110.5,156.0 111.8,156.6 113.0,157.2 114.2,157.8 115.5,158.4 116.8,159.0 118.0,159.6 119.2,160.2 120.5,160.8 121.8,161.5 123.0,162.2 124.2,162.8 125.5,163.5 126.8,164.2 128.0,164.9 129.2,165.5 130.5,166.2 131.8,166.9 133.0,167.6 134.2,168.3 135.5,169.0 136.8,169.7 138.0,170.3 139.2,170.9 140.5,171.5 141.8,172.1 143.0,172.7 144.2,173.2 145.5,173.7 146.8,174.1 148.0,174.5 149.2,174.9 150.5,175.2 151.8,175.4 153.0,175.7 154.2,175.9 155.5,176.1 156.8,176.2 158.0,176.4 159.2,176.5 160.5,176.6 161.8,176.7 163.0,176.8 164.2,176.8 165.5,176.8 166.8,176.8 168.0,176.7 169.2,176.6 170.5,176.5 171.8,176.4 173.0,176.2 174.2,176.1 175.5,175.9 176.8,175.7 178.0,175.4 179.2,175.2 180.5,174.9 181.8,174.6 183.0,174.2 184.2,173.7 185.5,173.2 186.8,172.7 188.0,172.1 189.2,171.6 190.5,171.0 191.8,170.3 193.0,169.7 194.2,169.0 195.5,168.3 196.8,167.6 198.0,166.9 199.2,166.2 200.5,165.6 201.8,164.9 203.0,164.2 204.2,163.5 205.5,162.8 206.8,162.2 208.0,161.5 209.2,160.9 210.5,160.2 211.8,159.6 213.0,159.0 214.2,158.4 215.5,157.8 216.8,157.2 218.0,156.6 219.2,156.0 220.5,155.4 221.8,155.6 223.0,156.2 224.2,156.7 225.5,157.3 226.8,157.9 228.0,158.5 229.2,159.1 230.5,159.7 231.8,160.4 233.0,161.0 234.2,161.6 235.5,162.3 236.8,163.0 238.0,163.7 239.2,164.3 240.5,165.0 241.8,165.7 243.0,166.4 244.2,167.1 245.5,167.8 246.8,168.5 248.0,169.1 249.2,169.8 250.5,170.5 251.8,171.1 253.0,171.7 254.2,172.2 255.5,172.8 256.8,173.3 258.0,173.8 259.2,174.2 260.5,174.6 261.8,175.0 263.0,175.2 264.2,175.5 265.5,175.7 266.8,175.9 268.0,176.1 269.2,176.3 270.5,176.4 271.8,176.6 273.0,176.7 274.2,176.7 275.5,176.8 276.8,176.8 278.0,176.8"/><path id="a6" d="M53.0,53.4 54.2,53.2 55.5,53.0 56.8,52.8 58.0,52.6 59.2,52.3 60.5,51.8 61.8,51.2 63.0,50.4 64.2,49.4 65.5,48.4 66.8,47.3 68.0,46.1 69.2,44.8 70.5,43.6 71.8,42.5 73.0,41.5 74.2,40.6 75.5,39.8 76.8,39.0 78.0,38.3 79.2,37.6 80.5,36.9 81.8,36.4 83.0,35.9 84.2,35.6 85.5,35.5 86.8,35.6 88.0,35.9 89.2,36.3 90.5,36.7 91.8,37.1 93.0,37.4 94.2,37.8 95.5,38.2 96.8,38.6 98.0,39.0 99.2,39.5 100.5,40.0 101.8,40.5 103.0,41.0 104.2,41.6 105.5,42.2 106.8,42.8 108.0,43.3 109.2,43.5 110.5,42.9 111.8,42.3 113.0,41.7 114.2,41.2 115.5,40.6 116.8,40.1 118.0,39.6 119.2,39.2 120.5,38.7 121.8,38.3 123.0,37.9 124.2,37.5 125.5,37.2 126.8,36.8 128.0,36.4 129.2,36.0 130.5,35.7 131.8,35.5 133.0,35.6 134.2,35.8 135.5,36.2 136.8,36.8 138.0,37.4 139.2,38.1 140.5,38.8 141.8,39.5 143.0,40.4 144.2,41.2 145.5,42.2 146.8,43.3 148.0,44.5 149.2,45.7 150.5,46.9 151.8,48.1 153.0,49.1 154.2,50.1 155.5,51.0 156.8,51.7 158.0,52.1 159.2,52.5 160.5,52.8 161.8,53.0 163.0,53.2 164.2,53.4 165.5,53.4 166.8,53.2 168.0,53.0 169.2,52.8 170.5,52.5 171.8,52.2 173.0,51.7 174.2,51.0 175.5,50.1 176.8,49.2 178.0,48.1 179.2,47.0 180.5,45.8 181.8,44.5 183.0,43.3 184.2,42.2 185.5,41.3 186.8,40.4 188.0,39.6 189.2,38.8 190.5,38.1 191.8,37.4 193.0,36.8 194.2,36.3 195.5,35.8 196.8,35.6 198.0,35.5 199.2,35.7 200.5,36.0 201.8,36.4 203.0,36.8 204.2,37.1 205.5,37.5 206.8,37.9 208.0,38.3 209.2,38.7 210.5,39.1 211.8,39.6 213.0,40.1 214.2,40.6 215.5,41.1 216.8,41.7 218.0,42.3 219.2,42.9 220.5,43.5 221.8,43.4 223.0,42.8 224.2,42.2 225.5,41.6 226.8,41.0 228.0,40.5 229.2,40.0 230.5,39.5 231.8,39.1 233.0,38.6 234.2,38.2 235.5,37.8 236.8,37.4 238.0,37.1 239.2,36.7 240.5,36.3 241.8,35.9 243.0,35.6 244.2,35.5 245.5,35.6 246.8,35.9 248.0,36.4 249.2,36.9 250.5,37.6 251.8,38.2 253.0,39.0 254.2,39.7 255.5,40.6 256.8,41.5 258.0,42.4 259.2,43.5 260.5,44.8 261.8,46.0 263.0,47.2 264.2,48.4 265.5,49.4 266.8,50.3 268.0,51.1 269.2,51.8 270.5,52.2 271.8,52.6 273.0,52.8 274.2,53.0 275.5,53.2 276.8,53.4 278.0,53.3"/><path id="a7" d="M53.0,66.4 54.2,65.5 55.5,64.6 56.8,63.4 58.0,62.0 59.2,60.5 60.5,59.3 61.8,58.3 63.0,57.5 64.2,57.1 65.5,57.2 66.8,57.7 68.0,58.3 69.2,58.8 70.5,59.3 71.8,59.9 73.0,60.4 74.2,60.8 75.5,61.2 76.8,61.5 78.0,61.8 79.2,62.0 80.5,62.1 81.8,62.2 83.0,62.2 84.2,62.1 85.5,62.0 86.8,61.8 88.0,61.5 89.2,61.3 90.5,61.0 91.8,60.7 93.0,60.4 94.2,60.1 95.5,59.7 96.8,59.3 98.0,59.0 99.2,58.6 100.5,58.3 101.8,58.0 103.0,57.7 104.2,57.3 105.5,57.0 106.8,56.7 108.0,56.4 109.2,56.3 110.5,56.6 111.8,56.9 113.0,57.3 114.2,57.6 115.5,57.9 116.8,58.2 118.0,58.5 119.2,58.9 120.5,59.2 121.8,59.6 123.0,60.0 124.2,60.3 125.5,60.6 126.8,61.0 128.0,61.2 129.2,61.5 130.5,61.7 131.8,61.9 133.0,62.1 134.2,62.2 135.5,62.2 136.8,62.2 138.0,62.0 139.2,61.8 140.5,61.6 141.8,61.3 143.0,60.9 144.2,60.5 145.5,60.0 146.8,59.5 148.0,58.9 149.2,58.4 150.5,57.9 151.8,57.3 153.0,57.1 154.2,57.4 155.5,58.1 156.8,59.0 158.0,60.1 159.2,61.6 160.5,63.1 161.8,64.3 163.0,65.3 164.2,66.1 165.5,66.2 166.8,65.3 168.0,64.3 169.2,63.1 170.5,61.6 171.8,60.2 173.0,59.1 174.2,58.1 175.5,57.4 176.8,57.1 178.0,57.3 179.2,57.9 180.5,58.4 181.8,58.9 183.0,59.4 184.2,60.0 185.5,60.5 186.8,60.9 188.0,61.3 189.2,61.6 190.5,61.8 191.8,62.0 193.0,62.1 194.2,62.2 195.5,62.2 196.8,62.1 198.0,61.9 199.2,61.7 200.5,61.5 201.8,61.2 203.0,61.0 204.2,60.7 205.5,60.3 206.8,60.0 208.0,59.6 209.2,59.3 210.5,58.9 211.8,58.5 213.0,58.2 214.2,57.9 215.5,57.6 216.8,57.3 218.0,57.0 219.2,56.6 220.5,56.3 221.8,56.4 223.0,56.7 224.2,57.0 225.5,57.3 226.8,57.6 228.0,58.0 229.2,58.3 230.5,58.6 231.8,59.0 233.0,59.3 234.2,59.7 235.5,60.1 236.8,60.4 238.0,60.7 239.2,61.0 240.5,61.3 241.8,61.5 243.0,61.8 244.2,62.0 245.5,62.1 246.8,62.2 248.0,62.2 249.2,62.1 250.5,62.0 251.8,61.8 253.0,61.5 254.2,61.2 255.5,60.8 256.8,60.4 258.0,59.9 259.2,59.3 260.5,58.8 261.8,58.3 263.0,57.8 264.2,57.2 265.5,57.1 266.8,57.5 268.0,58.3 269.2,59.3 270.5,60.5 271.8,61.9 273.0,63.4 274.2,64.5 275.5,65.5 276.8,66.3 278.0,66.0"/><path id="a8" d="M53.0,1.2 54.2,2.1 55.5,3.0 56.8,3.9 58.0,4.8 59.2,5.6 60.5,6.3 61.8,7.1 63.0,7.9 64.2,8.7 65.5,9.4 66.8,10.3 68.0,11.1 69.2,11.9 70.5,12.6 71.8,13.2 73.0,13.6 74.2,14.1 75.5,14.7 76.8,15.4 78.0,16.1 79.2,16.5 80.5,16.8 81.8,17.0 83.0,17.1 84.2,17.1 85.5,17.0 86.8,16.8 88.0,16.6 89.2,16.3 90.5,15.9 91.8,15.5 93.0,15.0 94.2,14.3 95.5,13.8 96.8,13.4 98.0,13.1 99.2,12.8 100.5,12.4 101.8,12.1 103.0,11.8 104.2,11.5 105.5,11.2 106.8,10.9 108.0,10.6 109.2,10.5 110.5,10.8 111.8,11.1 113.0,11.4 114.2,11.7 115.5,12.0 116.8,12.4 118.0,12.7 119.2,13.0 120.5,13.3 121.8,13.7 123.0,14.1 124.2,14.8 125.5,15.4 126.8,15.8 128.0,16.2 129.2,16.5 130.5,16.7 131.8,16.9 133.0,17.0 134.2,17.1 135.5,17.0 136.8,16.9 138.0,16.6 139.2,16.3 140.5,15.6 141.8,14.9 143.0,14.3 144.2,13.8 145.5,13.3 146.8,12.8 148.0,12.1 149.2,11.4 150.5,10.5 151.8,9.7 153.0,8.9 154.2,8.1 155.5,7.3 156.8,6.6 158.0,5.8 159.2,5.0 160.5,4.2 161.8,3.3 163.0,2.4 164.2,1.5 165.5,1.4 166.8,2.3 168.0,3.2 169.2,4.1 170.5,5.0 171.8,5.8 173.0,6.5 174.2,7.3 175.5,8.1 176.8,8.8 178.0,9.6 179.2,10.5 180.5,11.3 181.8,12.1 183.0,12.7 184.2,13.3 185.5,13.8 186.8,14.2 188.0,14.8 189.2,15.6 190.5,16.2 191.8,16.6 193.0,16.8 194.2,17.0 195.5,17.1 196.8,17.0 198.0,16.9 199.2,16.8 200.5,16.5 201.8,16.2 203.0,15.8 204.2,15.4 205.5,14.9 206.8,14.1 208.0,13.7 209.2,13.4 210.5,13.0 211.8,12.7 213.0,12.4 214.2,12.1 215.5,11.8 216.8,11.5 218.0,11.1 219.2,10.8 220.5,10.5 221.8,10.6 223.0,10.9 224.2,11.2 225.5,11.5 226.8,11.8 228.0,12.1 229.2,12.4 230.5,12.8 231.8,13.1 233.0,13.4 234.2,13.8 235.5,14.3 236.8,15.0 238.0,15.5 239.2,15.9 240.5,16.2 241.8,16.5 243.0,16.8 244.2,17.0 245.5,17.1 246.8,17.1 248.0,17.0 249.2,16.8 250.5,16.6 251.8,16.1 253.0,15.4 254.2,14.7 255.5,14.1 256.8,13.7 258.0,13.2 259.2,12.6 260.5,12.0 261.8,11.2 263.0,10.3 264.2,9.5 265.5,8.7 266.8,7.9 268.0,7.1 269.2,6.4 270.5,5.6 271.8,4.8 273.0,3.9 274.2,3.1 275.5,2.1 276.8,1.3 278.0,1.6"/><path id="a9" d="M53.0,34.5 54.2,35.5 55.5,36.5 56.8,37.3 58.0,38.0 59.2,38.6 60.5,38.7 61.8,38.3 63.0,37.5 64.2,36.5 65.5,35.1 66.8,33.4 68.0,31.6 69.2,30.0 70.5,28.4 71.8,26.8 73.0,25.0 74.2,23.0 75.5,21.1 76.8,19.4 78.0,17.8 79.2,16.3 80.5,15.0 81.8,13.5 83.0,11.2 84.2,8.1 85.5,5.0 86.8,1.8 88.0,0.0 89.2,0.0 90.5,0.0 91.8,0.0 93.0,0.0 94.2,0.0 95.5,0.0 96.8,0.0 98.0,0.0 99.2,0.0 100.5,0.0 101.8,0.0 103.0,0.0 104.2,0.0 105.5,0.0 106.8,0.0 108.0,0.0 109.2,0.0 110.5,0.0 111.8,0.0 113.0,0.0 114.2,0.0 115.5,0.0 116.8,0.0 118.0,0.0 119.2,0.0 120.5,0.0 121.8,0.0 123.0,0.0 124.2,0.0 125.5,0.0 126.8,0.0 128.0,0.0 129.2,0.0 130.5,1.0 131.8,4.1 133.0,7.2 134.2,10.4 135.5,13.0 136.8,14.6 138.0,15.9 139.2,17.4 140.5,19.0 141.8,20.6 143.0,22.4 144.2,24.4 145.5,26.3 146.8,28.0 148.0,29.6 149.2,31.2 150.5,32.9 151.8,34.6 153.0,36.2 154.2,37.3 155.5,38.1 156.8,38.6 158.0,38.7 159.2,38.2 160.5,37.5 161.8,36.7 163.0,35.8 164.2,34.8 165.5,34.8 166.8,35.8 168.0,36.7 169.2,37.5 170.5,38.2 171.8,38.6 173.0,38.6 174.2,38.2 175.5,37.3 176.8,36.2 178.0,34.7 179.2,32.9 180.5,31.2 181.8,29.6 183.0,28.1 184.2,26.4 185.5,24.5 186.8,22.5 188.0,20.7 189.2,19.0 190.5,17.5 191.8,15.9 193.0,14.7 194.2,13.1 195.5,10.5 196.8,7.3 198.0,4.2 199.2,1.1 200.5,0.0 201.8,0.0 203.0,0.0 204.2,0.0 205.5,0.0 206.8,0.0 208.0,0.0 209.2,0.0 210.5,0.0 211.8,0.0 213.0,0.0 214.2,0.0 215.5,0.0 216.8,0.0 218.0,0.0 219.2,0.0 220.5,0.0 221.8,0.0 223.0,0.0 224.2,0.0 225.5,0.0 226.8,0.0 228.0,0.0 229.2,0.0 230.5,0.0 231.8,0.0 233.0,0.0 234.2,0.0 235.5,0.0 236.8,0.0 238.0,0.0 239.2,0.0 240.5,0.0 241.8,0.0 243.0,1.7 244.2,4.8 245.5,8.0 246.8,11.1 248.0,13.5 249.2,14.9 250.5,16.2 251.8,17.8 253.0,19.4 254.2,21.0 255.5,22.9 256.8,24.9 258.0,26.7 259.2,28.4 260.5,29.9 261.8,31.5 263.0,33.3 264.2,35.0 265.5,36.5 266.8,37.5 268.0,38.3 269.2,38.7 270.5,38.6 271.8,38.0 273.0,37.3 274.2,36.5 275.5,35.6 276.8,34.6 278.0,35.0"/><path id="a10" d="M53.0,27.6 54.2,26.2 55.5,24.8 56.8,23.4 58.0,22.0 59.2,20.4 60.5,18.8 61.8,17.0 63.0,15.1 64.2,12.8 65.5,10.6 66.8,8.4 68.0,6.1 69.2,3.3 70.5,0.4 71.8,0.0 73.0,0.0 74.2,0.0 75.5,0.0 76.8,0.0 78.0,0.0 79.2,0.0 80.5,0.0 81.8,0.0 83.0,0.0 84.2,0.0 85.5,0.0 86.8,0.0 88.0,0.0 89.2,0.0 90.5,0.0 91.8,0.0 93.0,0.0 94.2,0.0 95.5,0.0 96.8,0.0 98.0,0.0 99.2,0.0 100.5,0.0 101.8,0.0 103.0,0.0 104.2,0.0 105.5,0.0 106.8,0.0 108.0,0.0 109.2,0.0 110.5,0.0 111.8,0.0 113.0,0.0 114.2,0.0 115.5,0.0 116.8,0.0 118.0,0.0 119.2,0.0 120.5,0.0 121.8,0.0 123.0,0.0 124.2,0.0 125.5,0.0 126.8,0.0 128.0,0.0 129.2,0.0 130.5,0.0 131.8,0.0 133.0,0.0 134.2,0.0 135.5,0.0 136.8,0.0 138.0,0.0 139.2,0.0 140.5,0.0 141.8,0.0 143.0,0.0 144.2,0.0 145.5,0.0 146.8,0.0 148.0,2.5 149.2,5.4 150.5,7.8 151.8,10.0 153.0,12.2 154.2,14.5 155.5,16.5 156.8,18.3 158.0,20.0 159.2,21.6 160.5,23.0 161.8,24.4 163.0,25.8 164.2,27.2 165.5,27.3 166.8,25.9 168.0,24.5 169.2,23.1 170.5,21.6 171.8,20.0 173.0,18.4 174.2,16.6 175.5,14.5 176.8,12.3 178.0,10.1 179.2,7.9 180.5,5.5 181.8,2.6 183.0,0.0 184.2,0.0 185.5,0.0 186.8,0.0 188.0,0.0 189.2,0.0 190.5,0.0 191.8,0.0 193.0,0.0 194.2,0.0 195.5,0.0 196.8,0.0 198.0,0.0 199.2,0.0 200.5,0.0 201.8,0.0 203.0,0.0 204.2,0.0 205.5,0.0 206.8,0.0 208.0,0.0 209.2,0.0 210.5,0.0 211.8,0.0 213.0,0.0 214.2,0.0 215.5,0.0 216.8,0.0 218.0,0.0 219.2,0.0 220.5,0.0 221.8,0.0 223.0,0.0 224.2,0.0 225.5,0.0 226.8,0.0 228.0,0.0 229.2,0.0 230.5,0.0 231.8,0.0 233.0,0.0 234.2,0.0 235.5,0.0 236.8,0.0 238.0,0.0 239.2,0.0 240.5,0.0 241.8,0.0 243.0,0.0 244.2,0.0 245.5,0.0 246.8,0.0 248.0,0.0 249.2,0.0 250.5,0.0 251.8,0.0 253.0,0.0 254.2,0.0 255.5,0.0 256.8,0.0 258.0,0.0 259.2,0.2 260.5,3.2 261.8,6.0 263.0,8.3 264.2,10.5 265.5,12.8 266.8,15.0 268.0,17.0 269.2,18.7 270.5,20.4 271.8,21.9 273.0,23.4 274.2,24.8 275.5,26.1 276.8,27.6 278.0,26.9"/></defs>
<g fill="none" stroke-linejoin="round" stroke-linecap="round">
<use href="#a0" stroke="#38c8f0" stroke-width="2.0" stroke-opacity="0.85"/>
<use href="#a1" stroke="#40d8d8" stroke-width="2.2" stroke-opacity="0.9"/>
<use href="#a2" stroke="#48d8c0" stroke-width="2.4" stroke-opacity="0.9"/>
<use href="#a3" stroke="#40d8d8" stroke-width="2.2" stroke-opacity="0.9"/>
<use href="#a4" stroke="#40d8d8" stroke-width="2.2" stroke-opacity="0.9"/>
<use href="#a5" stroke="#48d8c0" stroke-width="2.4" stroke-opacity="0.9"/>
<use href="#a6" stroke="#40d8d8" stroke-width="2.2" stroke-opacity="0.9"/>
<use href="#a7" stroke="#38c8f0" stroke-width="2.0" stroke-opacity="0.85"/>
<use href="#a8" stroke="#38c8f0" stroke-width="2.0" stroke-opacity="0.85"/>
<use href="#a9" stroke="#38c8f0" stroke-width="2.0" stroke-opacity="0.85"/>
<use href="#a10" stroke="#30b0f0" stroke-width="1.6" stroke-opacity="0.9"/>
<use href="#a0" stroke="#a8f070" stroke-width="0.9"/>
<use href="#a1" stroke="#d8ec40" stroke-width="1.1"/>
<use href="#a2" stroke="#f0d020" stroke-width="1.5"/>
<use href="#a3" stroke="#d8ec40" stroke-width="1.1"/>
<use href="#a4" stroke="#d8ec40" stroke-width="1.1"/>
<use href="#a5" stroke="#f0d020" stroke-width="1.5"/>
<use href="#a6" stroke="#d8ec40" stroke-width="1.1"/>
<use href="#a7" stroke="#a8f070" stroke-width="0.9"/>
<use href="#a8" stroke="#a8f070" stroke-width="0.9"/>
<use href="#a9" stroke="#a8f070" stroke-width="0.9"/>
<use href="#a10" stroke="#50e0e8" stroke-width="0.7"/>
<use href="#a2" stroke="#e05010" stroke-width="0.8"/>
<use href="#a5" stroke="#e05010" stroke-width="0.8"/>
</g>
<line x1="108.9" y1="5" x2="108.9" y2="203" stroke="#fff" stroke-width="2.2" stroke-dasharray="8 7 2 6.7" stroke-dashoffset="0.70"/>
<line x1="164.9" y1="5" x2="164.9" y2="203" stroke="#fff" stroke-width="2.2" stroke-dasharray="8 7 2 6.7" stroke-dashoffset="0.70"/>
<line x1="221.1" y1="5" x2="221.1" y2="203" stroke="#fff" stroke-width="2.2" stroke-dasharray="8 7 2 6.7" stroke-dashoffset="0.70"/>
</g>
<clipPath id="cpb"><rect x="318" y="5" width="225" height="198"/></clipPath>
<rect x="318" y="5" width="225" height="198" fill="#1450ee"/>
<g clip-path="url(#cpb)">
<rect x="318" y="5" width="225" height="198" filter="url(#nzb)"/>
<use href="#gB" transform="translate(636.03,-222) scale(-0.9982,1)"/><use href="#gB" transform="translate(748.23,-222) scale(-0.9982,1)"/><use href="#gB" transform="translate(860.43,-222) scale(-0.9982,1)"/><use href="#gB" transform="translate(972.63,-222) scale(-0.9982,1)"/><use href="#gB" transform="translate(1084.83,-222) scale(-0.9982,1)"/>
<linearGradient id="bgrb" x1="0" y1="0" x2="1" y2="0"><stop offset="0" stop-color="#fff"/><stop offset="0.55" stop-color="#fff"/><stop offset="1" stop-color="#000"/></linearGradient>
<mask id="bstb" maskUnits="userSpaceOnUse" x="0" y="0" width="558" height="466"><rect x="318" y="5" width="36" height="105" fill="url(#bgrb)"/></mask><g mask="url(#bstb)">
<use href="#gX" transform="translate(636.03,-222) scale(-0.9982,1)"/><use href="#gX" transform="translate(748.23,-222) scale(-0.9982,1)"/><use href="#gX" transform="translate(860.43,-222) scale(-0.9982,1)"/><use href="#gX" transform="translate(972.63,-222) scale(-0.9982,1)"/><use href="#gX" transform="translate(1084.83,-222) scale(-0.9982,1)"/>
</g>
<line x1="373.9" y1="5" x2="373.9" y2="203" stroke="#fff" stroke-width="2.2" stroke-dasharray="8 7 2 6.7" stroke-dashoffset="0.70"/>
<line x1="430.4" y1="5" x2="430.4" y2="203" stroke="#fff" stroke-width="2.2" stroke-dasharray="8 7 2 6.7" stroke-dashoffset="0.70"/>
<line x1="486.1" y1="5" x2="486.1" y2="203" stroke="#fff" stroke-width="2.2" stroke-dasharray="8 7 2 6.7" stroke-dashoffset="0.70"/>
</g>
<clipPath id="cpc"><rect x="53" y="227" width="225" height="199"/></clipPath>
<rect x="53" y="227" width="225" height="199" fill="#1450ee"/>
<g clip-path="url(#cpc)">
<rect x="53" y="227" width="225" height="199" filter="url(#nzb)"/>
<use href="#gB" transform="translate(-492.45,0) scale(1.0027,1)"/><use href="#gB" transform="translate(-379.75,0) scale(1.0027,1)"/><use href="#gB" transform="translate(-267.05,0) scale(1.0027,1)"/><use href="#gB" transform="translate(-154.35,0) scale(1.0027,1)"/><use href="#gB" transform="translate(-41.65,0) scale(1.0027,1)"/>
<linearGradient id="bgrc" x1="1" y1="0" x2="0" y2="0"><stop offset="0" stop-color="#fff"/><stop offset="0.55" stop-color="#fff"/><stop offset="1" stop-color="#000"/></linearGradient>
<mask id="bstc" maskUnits="userSpaceOnUse" x="0" y="0" width="558" height="466"><rect x="242" y="227" width="36" height="108" fill="url(#bgrc)"/></mask><g mask="url(#bstc)">
<use href="#gX" transform="translate(-492.45,0) scale(1.0027,1)"/><use href="#gX" transform="translate(-379.75,0) scale(1.0027,1)"/><use href="#gX" transform="translate(-267.05,0) scale(1.0027,1)"/><use href="#gX" transform="translate(-154.35,0) scale(1.0027,1)"/><use href="#gX" transform="translate(-41.65,0) scale(1.0027,1)"/>
</g>
<line x1="108.9" y1="227" x2="108.9" y2="426" stroke="#fff" stroke-width="2.2" stroke-dasharray="8 7 2 6.7" stroke-dashoffset="0.40"/>
<line x1="164.9" y1="227" x2="164.9" y2="426" stroke="#fff" stroke-width="2.2" stroke-dasharray="8 7 2 6.7" stroke-dashoffset="0.40"/>
<line x1="221.6" y1="227" x2="221.6" y2="426" stroke="#fff" stroke-width="2.2" stroke-dasharray="8 7 2 6.7" stroke-dashoffset="0.40"/>
</g>
<clipPath id="cpd"><rect x="319" y="227" width="224" height="199"/></clipPath>
<rect x="319" y="227" width="224" height="199" fill="#0512e6"/>
<g clip-path="url(#cpd)">
<rect x="319" y="227" width="224" height="199" filter="url(#nzd)"/>
<use href="#gD" transform="translate(-224.80,0) scale(1.0000,1)"/><use href="#gD" transform="translate(-112.40,0) scale(1.0000,1)"/><use href="#gD" transform="translate(-0.00,0) scale(1.0000,1)"/><use href="#gD" transform="translate(112.40,0) scale(1.0000,1)"/><use href="#gD" transform="translate(224.80,0) scale(1.0000,1)"/>
<line x1="430.8" y1="227" x2="430.8" y2="426" stroke="#2a7af0" stroke-width="5" stroke-opacity="0.6"/><line x1="430.8" y1="227" x2="430.8" y2="426" stroke="#90f4f4" stroke-width="2.4"/>
<line x1="374.4" y1="227" x2="374.4" y2="426" stroke="#fff" stroke-width="2.2" stroke-dasharray="8 7 2 6.7" stroke-dashoffset="0.40"/>
<line x1="430.8" y1="227" x2="430.8" y2="426" stroke="#fff" stroke-width="2.2" stroke-dasharray="8 7 2 6.7" stroke-dashoffset="0.40"/>
<line x1="486.8" y1="227" x2="486.8" y2="426" stroke="#fff" stroke-width="2.2" stroke-dasharray="8 7 2 6.7" stroke-dashoffset="0.40"/>
</g>
<rect x="53" y="5" width="161.8" height="57" fill="url(#ig)"/>
<rect x="53" y="5" width="161.8" height="1.9" fill="#6e6c40"/>
<rect x="53" y="55" width="161.8" height="6.6" fill="#b2ca1e"/>
<rect x="53.3" y="26.4" width="7.5" height="2.7" fill="#a8d020"/>
<rect x="53.3" y="29.1" width="7.5" height="3" fill="#101008"/>
<rect x="72.5" y="26.4" width="7.5" height="2.7" fill="#a8d020"/>
<rect x="72.5" y="29.1" width="7.5" height="3" fill="#101008"/>
<rect x="91.7" y="26.4" width="7.5" height="2.7" fill="#a8d020"/>
<rect x="91.7" y="29.1" width="7.5" height="3" fill="#101008"/>
<rect x="110.9" y="26.4" width="7.5" height="2.7" fill="#a8d020"/>
<rect x="110.9" y="29.1" width="7.5" height="3" fill="#101008"/>
<rect x="130.1" y="26.4" width="7.5" height="2.7" fill="#a8d020"/>
<rect x="130.1" y="29.1" width="7.5" height="3" fill="#101008"/>
<rect x="149.3" y="26.4" width="7.5" height="2.7" fill="#a8d020"/>
<rect x="149.3" y="29.1" width="7.5" height="3" fill="#101008"/>
<rect x="168.5" y="26.4" width="7.5" height="2.7" fill="#a8d020"/>
<rect x="168.5" y="29.1" width="7.5" height="3" fill="#101008"/>
<rect x="187.7" y="26.4" width="7.5" height="2.7" fill="#a8d020"/>
<rect x="187.7" y="29.1" width="7.5" height="3" fill="#101008"/>
<rect x="206.9" y="26.4" width="7.5" height="2.7" fill="#a8d020"/>
<rect x="206.9" y="29.1" width="7.5" height="3" fill="#101008"/>
<line x1="89.3" y1="8.5" x2="86.2" y2="51.5" stroke="#000" stroke-width="0.9"/>
<path d="M89.5,6.3 L87.6,11.6 L91.2,11.8 Z" fill="#000"/>
<path d="M86,53.8 L84.4,48.5 L88,48.7 Z" fill="#000"/>
<text font-size="12.00" font-weight="bold" fill="#000" transform="translate(85.88,46.46) rotate(-90) scale(0.910,1)">45 nm</text>
<text font-size="10.14" font-weight="bold" fill="#000" transform="translate(107.33,15.40) scale(1.037,1)">6 nm</text>
<line x1="102.2" y1="19" x2="109" y2="19" stroke="#000" stroke-width="1"/><path d="M111.6,19 L107.6,17.2 L107.6,20.8Z" fill="#000"/>
<line x1="122" y1="19" x2="129.4" y2="19" stroke="#000" stroke-width="1"/><path d="M120.2,19 L124.2,17.2 L124.2,20.8Z" fill="#000"/>
<line x1="112.3" y1="17" x2="112.3" y2="37" stroke="#000" stroke-width="0.8" stroke-dasharray="2.5 1.5"/>
<line x1="119.2" y1="17" x2="119.2" y2="37" stroke="#000" stroke-width="0.8" stroke-dasharray="2.5 1.5"/>
<text font-size="10.14" font-weight="bold" fill="#000" transform="translate(164.04,12.40) scale(1.007,1)">15 nm</text>
<line x1="158.2" y1="16.1" x2="164" y2="16.1" stroke="#000" stroke-width="1"/><path d="M167.1,16.1 L163.1,14.3 L163.1,17.9Z" fill="#000"/>
<line x1="188.5" y1="16.1" x2="194.5" y2="16.1" stroke="#000" stroke-width="1"/><path d="M185.6,16.1 L189.6,14.3 L189.6,17.9Z" fill="#000"/>
<line x1="167.1" y1="13" x2="169.6" y2="37" stroke="#000" stroke-width="0.8" stroke-dasharray="2.5 1.5"/>
<line x1="185.6" y1="13" x2="188.1" y2="37" stroke="#000" stroke-width="0.8" stroke-dasharray="2.5 1.5"/>
<text font-size="10.14" font-weight="bold" fill="#000" transform="translate(132.24,61.10) scale(1.001,1)">1 nm</text>
<line x1="126.3" y1="45.2" x2="126.3" y2="51" stroke="#000" stroke-width="1"/><path d="M126.3,54.5 L124,49.6 L128.6,49.6Z" fill="#000"/>
<line x1="126.3" y1="65" x2="126.3" y2="69.4" stroke="#000" stroke-width="1"/><path d="M126.3,62.4 L124,67 L128.6,67Z" fill="#000"/>
<text font-size="20.21" font-weight="bold" fill="#fff" transform="translate(59.23,197.16) scale(0.963,1)">(a)</text>
<text font-size="19.14" font-weight="bold" fill="#fff" transform="translate(320.67,199.58) scale(0.969,1)">(b)</text>
<text font-size="19.68" font-weight="bold" fill="#fff" transform="translate(56.92,421.17) scale(0.994,1)">(c)</text>
<text font-size="19.68" font-weight="bold" fill="#fff" transform="translate(322.93,421.17) scale(0.986,1)">(d)</text>
<text font-size="15.70" font-weight="normal" fill="#000" transform="translate(24.75,14.89) scale(1.037,1)">300</text>
<text font-size="15.77" font-weight="normal" fill="#000" transform="translate(24.89,76.94) scale(1.026,1)">200</text>
<text font-size="15.63" font-weight="normal" fill="#000" transform="translate(24.47,142.74) scale(1.052,1)">100</text>
<text font-size="15.21" font-weight="normal" fill="#000" transform="translate(40.23,203.15) scale(1.107,1)">0</text>
<text font-size="16.13" font-weight="normal" fill="#000" transform="translate(288.36,14.89) scale(0.994,1)">300</text>
<text font-size="15.35" font-weight="normal" fill="#000" transform="translate(288.20,76.65) scale(1.046,1)">200</text>
<text font-size="15.63" font-weight="normal" fill="#000" transform="translate(288.51,142.74) scale(1.015,1)">100</text>
<text font-size="15.63" font-weight="normal" fill="#000" transform="translate(303.58,203.84) scale(1.158,1)">0</text>
<text font-size="15.63" font-weight="normal" fill="#000" transform="translate(23.26,237.04) scale(1.029,1)">300</text>
<text font-size="15.77" font-weight="normal" fill="#000" transform="translate(23.61,299.24) scale(1.006,1)">200</text>
<text font-size="16.20" font-weight="normal" fill="#000" transform="translate(23.50,365.64) scale(0.984,1)">100</text>
<text font-size="15.77" font-weight="normal" fill="#000" transform="translate(38.90,426.34) scale(1.108,1)">0</text>
<text font-size="15.07" font-weight="normal" fill="#000" transform="translate(290.16,235.95) scale(1.068,1)">300</text>
<text font-size="14.51" font-weight="normal" fill="#000" transform="translate(290.40,297.75) scale(1.099,1)">200</text>
<text font-size="15.21" font-weight="normal" fill="#000" transform="translate(290.30,364.15) scale(1.052,1)">100</text>
<text font-size="15.21" font-weight="normal" fill="#000" transform="translate(305.62,424.75) scale(1.121,1)">0</text>
<text font-size="16.20" font-weight="normal" fill="#000" transform="translate(27.53,219.24) scale(1.055,1)">-2π/a</text>
<text font-size="16.20" font-weight="normal" fill="#000" transform="translate(92.64,219.24) scale(1.040,1)">-π/a</text>
<text font-size="16.20" font-weight="normal" fill="#000" transform="translate(160.33,219.24) scale(1.040,1)">0</text>
<text font-size="16.20" font-weight="normal" fill="#000" transform="translate(211.93,219.24) scale(1.039,1)">π/a</text>
<text font-size="16.20" font-weight="normal" fill="#000" transform="translate(253.66,219.24) scale(1.037,1)">2π/a</text>
<text font-size="16.20" font-weight="normal" fill="#000" transform="translate(296.43,219.24) scale(1.055,1)">-2π/a</text>
<text font-size="16.20" font-weight="normal" fill="#000" transform="translate(361.43,219.24) scale(1.051,1)">-π/a</text>
<text font-size="16.20" font-weight="normal" fill="#000" transform="translate(428.98,219.24) scale(1.105,1)">0</text>
<text font-size="16.20" font-weight="normal" fill="#000" transform="translate(480.73,219.24) scale(1.035,1)">π/a</text>
<text font-size="16.20" font-weight="normal" fill="#000" transform="translate(521.95,219.24) scale(1.055,1)">2π/a</text>
<text font-size="16.34" font-weight="normal" fill="#000" transform="translate(29.14,441.64) scale(1.038,1)">-2π/a</text>
<text font-size="16.34" font-weight="normal" fill="#000" transform="translate(93.83,441.64) scale(1.052,1)">-π/a</text>
<text font-size="16.34" font-weight="normal" fill="#000" transform="translate(162.27,441.64) scale(0.966,1)">0</text>
<text font-size="16.34" font-weight="normal" fill="#000" transform="translate(213.12,441.64) scale(1.035,1)">π/a</text>
<text font-size="16.34" font-weight="normal" fill="#000" transform="translate(254.94,441.64) scale(1.058,1)">2π/a</text>
<text font-size="16.34" font-weight="normal" fill="#000" transform="translate(294.44,441.64) scale(1.035,1)">-2π/a</text>
<text font-size="16.34" font-weight="normal" fill="#000" transform="translate(359.53,441.64) scale(1.048,1)">-π/a</text>
<text font-size="16.34" font-weight="normal" fill="#000" transform="translate(427.08,441.64) scale(1.108,1)">0</text>
<text font-size="16.34" font-weight="normal" fill="#000" transform="translate(479.14,441.64) scale(1.014,1)">π/a</text>
<text font-size="16.34" font-weight="normal" fill="#000" transform="translate(520.45,441.64) scale(1.040,1)">2π/a</text>
<text font-size="20.54" font-weight="normal" fill="#000" transform="translate(234.39,463.99) scale(1.098,1)">Wave Number</text>
<text font-size="22.89" font-weight="normal" fill="#000" transform="translate(16.99,280.45) rotate(-90) scale(1.012,1)">Frequency (GHz)</text>
</svg></body></html>
